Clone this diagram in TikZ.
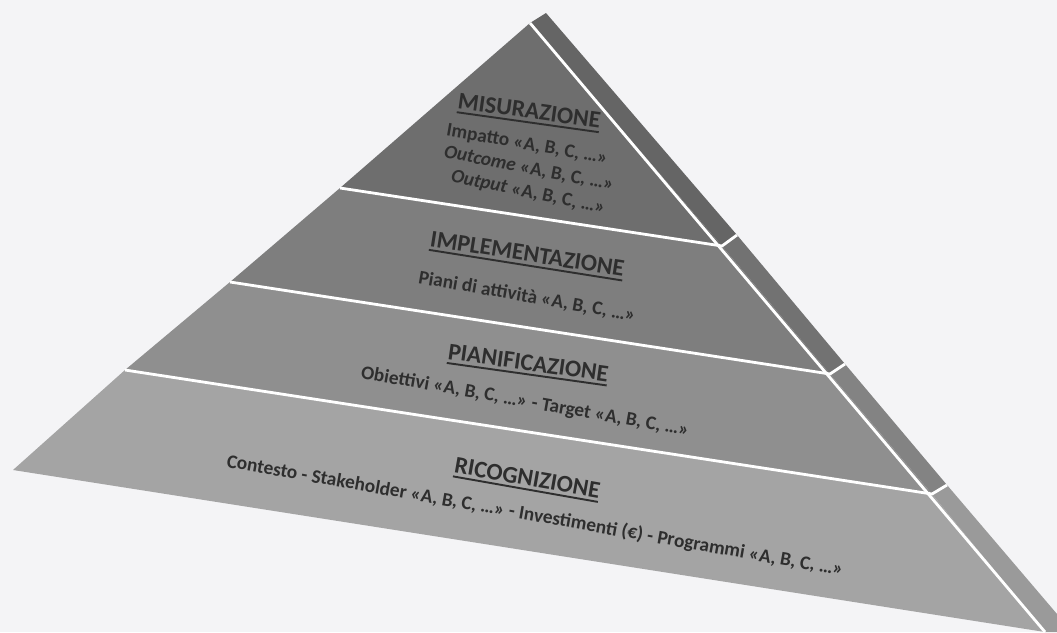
\documentclass[tikz,border=0pt]{standalone}
\usepackage{fontspec}
\setmainfont{Carlito}
\usetikzlibrary{positioning}
\definecolor{bgpaper}{HTML}{F4F4F6}
\definecolor{txtgray}{HTML}{2E2E2E}
\definecolor{misfront}{HTML}{6E6E6E}
\definecolor{misside}{HTML}{656565}
\definecolor{impfront}{HTML}{7E7E7E}
\definecolor{impside}{HTML}{727272}
\definecolor{piafront}{HTML}{8F8F8F}
\definecolor{piaside}{HTML}{838383}
\definecolor{ricfront}{HTML}{A4A4A4}
\definecolor{ricside}{HTML}{9A9A9A}
\newcommand{\ulword}[1]{\setbox0=\hbox{#1}\leavevmode\hbox{\rlap{\copy0}\rule[-0.2em]{\wd0}{0.08em}}}

\begin{document}
\begin{tikzpicture}[x=0.02cm,y=-0.02cm,
  gap/.style={draw=white,line width=1.6pt},
  title/.style={text=txtgray,font=\fontsize{13.6}{15}\selectfont\bfseries,inner sep=0pt},
  sub/.style={text=txtgray,font=\fontsize{11}{12}\selectfont\bfseries,inner sep=0pt}]
% \draw[help lines] (0,0) grid (1057,632);
\fill[bgpaper] (0,0) rectangle (1057,632);
\useasboundingbox (0,0) rectangle (1057,632);
%
\coordinate (apex) at (530,23);
\coordinate (l1) at (340,188);
\coordinate (l2) at (230,282);
\coordinate (l3) at (125,370);
\coordinate (l0) at (13,470);
\coordinate (r1) at (722,246);
\coordinate (r2) at (830,374);
\coordinate (r3) at (932,494);
\coordinate (r0) at (1045,632);
\coordinate (sapex) at (546,13);
\coordinate (s1) at (737,235);
\coordinate (s2) at (845,364);
\coordinate (s3) at (947,485);
\coordinate (s0) at (1057,614);
%
\fill[misfront] (apex) -- (l1) -- (r1) -- cycle;
\fill[impfront] (l1) -- (l2) -- (r2) -- (r1) -- cycle;
\fill[piafront] (l2) -- (l3) -- (r3) -- (r2) -- cycle;
\fill[ricfront] (l3) -- (l0) -- (r0) -- (r3) -- cycle;
%
\fill[misside] (apex) -- (sapex) -- (s1) -- (r1) -- cycle;
\fill[impside] (r1) -- (s1) -- (s2) -- (r2) -- cycle;
\fill[piaside] (r2) -- (s2) -- (s3) -- (r3) -- cycle;
\fill[ricside] (r3) -- (s3) -- (s0) -- (1057,632) -- (r0) -- cycle;
%
\draw[gap] (apex) -- (r0);
\draw[gap] (l1) -- (r1) -- (s1);
\draw[gap] (l2) -- (r2) -- (s2);
\draw[gap] (l3) -- (r3) -- (s3);
%
\node (mis) [title,rotate=-8] at (529,113) {\ulword{MISURAZIONE}};
\node (misa) [sub,rotate=-10] at (527,145) {Impatto «A, B, C, …»};
\node (misb) [sub,rotate=-11] at (529,169) {\textit{Outcome} «A, B, C, …»};
\node (misc) [sub,rotate=-12] at (528,193) {\textit{Output} «A, B, C, …»};
%
\node (imp) [title,rotate=-9] at (527,256) {\ulword{IMPLEMENTAZIONE}};
\node (impa) [sub,rotate=-10] at (527,297) {Piani di attività «A, B, C, …»};
%
\node (pia) [title,rotate=-8] at (528,365) {\ulword{PIANIFICAZIONE}};
\node (piaa) [sub,rotate=-10] at (525,402) {Obiettivi «A, B, C, …» - Target «A, B, C, …»};
%
\node (ric) [title,rotate=-10] at (527,480) {\ulword{RICOGNIZIONE}};
\node (rica) [sub,rotate=-10] at (535,516) {Contesto - Stakeholder «A, B, C, …» - Investimenti (€) - Programmi «A, B, C, …»};
%
\end{tikzpicture}
\end{document}
